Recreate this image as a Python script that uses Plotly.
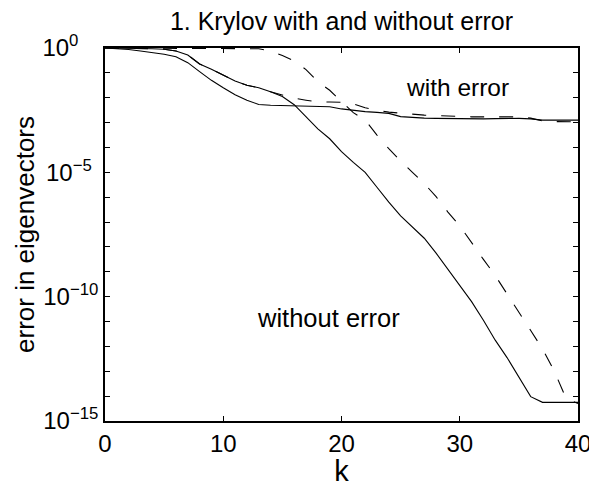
import plotly.graph_objects as go

k = list(range(0, 41))

# log10 of error values
with_err_solid = [0, -0.02, -0.06, -0.12, -0.18, -0.25, -0.35, -0.59, -0.95, -1.3,
                  -1.6, -1.88, -2.1, -2.27, -2.3, -2.31, -2.32, -2.33, -2.34, -2.36,
                  -2.45, -2.52, -2.56, -2.59, -2.63, -2.76, -2.8, -2.82, -2.83, -2.84,
                  -2.85, -2.85, -2.85, -2.84, -2.83, -2.83, -2.85, -2.9, -2.9, -2.9, -2.9]
without_err_solid = [0, 0, 0, -0.01, -0.03, -0.05, -0.12, -0.28, -0.64, -0.85,
                     -1.1, -1.33, -1.5, -1.6, -1.76, -1.95, -2.28, -2.75, -3.25, -3.65,
                     -4.17, -4.6, -5.0, -5.6, -6.2, -6.75, -7.2, -7.65, -8.25, -8.9,
                     -9.53, -10.2, -10.95, -11.75, -12.45, -13.25, -14.02, -14.25, -14.25, -14.25, -14.25]
with_err_dashed = [0, 0, 0, -0.01, -0.03, -0.05, -0.12, -0.28, -0.64, -0.85,
                   -1.1, -1.33, -1.5, -1.6, -1.76, -1.88, -2.02, -2.1, -2.17, -2.17,
                   -2.18, -2.25, -2.4, -2.5, -2.58, -2.62, -2.67, -2.7, -2.72, -2.72,
                   -2.75, -2.77, -2.77, -2.77, -2.77, -2.77, -2.82, -2.93, -2.96, -2.96, -2.97]
without_err_dashed = [0, 0, 0, 0, 0, 0, 0, 0, 0, 0,
                      0, 0, -0.02, -0.03, -0.12, -0.3, -0.52, -0.87, -1.35, -1.7,
                      -2.15, -2.6, -2.9, -3.5, -4.05, -4.55, -5.0, -5.45, -5.98, -6.6,
                      -7.15, -7.85, -8.5, -9.15, -9.9, -10.6, -11.35, -12.1, -13.0, -14.1, -14.3]

ytick_major_exp = [0, -5, -10, -15]
ytick_labels = ["10<sup>0</sup>\u00a0\u00a0\u00a0", "10<sup>−5</sup>\u00a0",
                "10<sup>−10</sup>", "10<sup>−15</sup>"]
ytick_minor_exp = [-1, -2, -3, -4, -6, -7, -8, -9, -11, -12, -13, -14]
xtick_vals = [0, 10, 20, 30, 40]

FONT = "Liberation Sans, Arial, sans-serif"
FS = 24

# the page body has an 8px margin, so the figure is sized to fit the 597x487 window
W, H = 589, 479

fig = go.Figure()
for ys, dash in [(with_err_solid, "solid"), (without_err_solid, "solid"),
                 (with_err_dashed, "14px,15px"), (without_err_dashed, "14px,15px")]:
    fig.add_trace(go.Scatter(x=k, y=[10 ** v for v in ys], mode="lines",
                             line=dict(color="black", width=1.1, dash=dash),
                             showlegend=False, hoverinfo="skip"))

fig.add_annotation(x=29.8, y=-1.57, text="with error", showarrow=False,
                   font=dict(size=24.5, color="black", family=FONT))
fig.add_annotation(x=18.9, y=-10.86, text="without error", showarrow=False,
                   font=dict(size=25.5, color="black", family=FONT))

fig.update_layout(
    width=W, height=H,
    margin=dict(l=97, r=19, t=40, b=66, autoexpand=False),
    paper_bgcolor="white", plot_bgcolor="white",
    font=dict(family=FONT, size=FS, color="black"),
    title=dict(text="1. Krylov with and without error", x=(341.5 - 8) / W, xanchor="center",
               y=1 - 13 / H, yref="container", yanchor="middle", font=dict(size=25)),
)
fig.update_xaxes(range=[0, 40], tickvals=xtick_vals, ticks="inside", ticklen=5,
                 showline=True, linecolor="black", linewidth=1.5, mirror="ticks",
                 showgrid=False, zeroline=False, tickcolor="black", automargin=False,
                 title=dict(text="k", standoff=0))
fig.update_yaxes(type="log", range=[-15, 0],
                 tickvals=[10.0 ** e for e in ytick_major_exp], ticktext=ytick_labels,
                 ticks="inside", ticklen=5, tickcolor="black",
                 minor=dict(tickvals=[10.0 ** e for e in ytick_minor_exp], ticks="inside",
                            ticklen=5, tickcolor="black"),
                 showline=True, linecolor="black", linewidth=1.5, mirror="ticks",
                 showgrid=False, zeroline=False, automargin=False,
                 title=dict(text="error in eigenvectors", standoff=0, font=dict(size=26)))

fig.write_html("out.html")
